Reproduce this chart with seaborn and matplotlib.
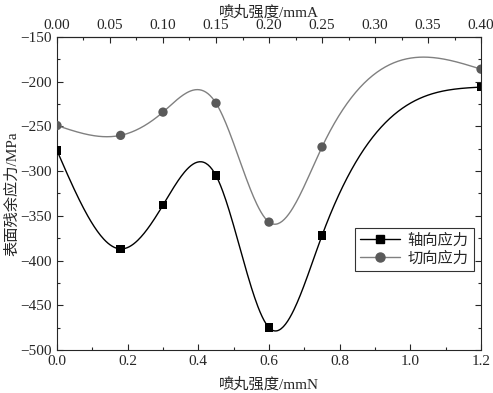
import numpy as np
import pandas as pd
import seaborn as sns
import matplotlib
matplotlib.use('Agg')
import matplotlib.pyplot as plt
from matplotlib.ticker import MultipleLocator

# 数据
x_mmN = [0.0, 0.18, 0.3, 0.45, 0.6, 0.75, 1.2]
axial = [-277, -387, -338, -305, -475, -372, -206]
tangential = [-249, -260, -234, -224, -357, -273, -186]
labels = ['轴向应力', '切向应力']


def natural_spline(x, y, xs):
    # 自然三次样条，只用来画平滑曲线
    x = np.asarray(x, float)
    y = np.asarray(y, float)
    n = len(x)
    h = np.diff(x)
    A = np.zeros((n, n))
    b = np.zeros(n)
    A[0, 0] = A[-1, -1] = 1
    for i in range(1, n - 1):
        A[i, i - 1] = h[i - 1]
        A[i, i] = 2 * (h[i - 1] + h[i])
        A[i, i + 1] = h[i]
        b[i] = 3 * ((y[i + 1] - y[i]) / h[i] - (y[i] - y[i - 1]) / h[i - 1])
    c = np.linalg.solve(A, b)
    idx = np.clip(np.searchsorted(x, xs) - 1, 0, n - 2)
    dx = xs - x[idx]
    bb = (y[idx + 1] - y[idx]) / h[idx] - h[idx] * (2 * c[idx] + c[idx + 1]) / 3
    d = (c[idx + 1] - c[idx]) / (3 * h[idx])
    return y[idx] + bb * dx + c[idx] * dx ** 2 + d * dx ** 3


sns.set_style('ticks')
plt.rcParams['font.family'] = ['Liberation Serif', 'Noto Sans CJK SC']
plt.rcParams['axes.unicode_minus'] = True

fig = plt.figure(figsize=(4.93, 3.93), dpi=100)
ax = fig.add_axes([0.1156, 0.1094, 0.8601, 0.7965])

xs = np.linspace(0, 1.2, 400)
pts = pd.DataFrame({'x': x_mmN, 'axial': axial, 'tang': tangential})
curves = pd.DataFrame({'x': xs,
                       'axial': natural_spline(x_mmN, axial, xs),
                       'tang': natural_spline(x_mmN, tangential, xs)})

sns.lineplot(data=curves, x='x', y='tang', ax=ax, color='#808080', linewidth=1.0)
sns.lineplot(data=curves, x='x', y='axial', ax=ax, color='black', linewidth=1.0)
sns.scatterplot(data=pts, x='x', y='tang', ax=ax, color='#5a5a5a', marker='o',
                s=45, edgecolor='none', zorder=3)
sns.scatterplot(data=pts, x='x', y='axial', ax=ax, color='black', marker='s',
                s=38, edgecolor='none', zorder=3)

# 图例
h1, = ax.plot([], [], color='black', marker='s', markersize=6, linewidth=1.0)
h2, = ax.plot([], [], color='#808080', marker='o', markersize=6.5,
              markerfacecolor='#5a5a5a', markeredgecolor='#5a5a5a', linewidth=1.0)
leg = ax.legend([h1, h2], labels, loc='upper left', bbox_to_anchor=(0.703, 0.39),
                frameon=True, fancybox=False, edgecolor='black', fontsize=11,
                handlelength=2.6, borderpad=0.35, labelspacing=0.25,
                handletextpad=0.5, borderaxespad=0)
leg.get_frame().set_linewidth(0.8)

ax.set_xlim(0, 1.2)
ax.set_ylim(-500, -150)
ax.xaxis.set_major_locator(MultipleLocator(0.2))
ax.xaxis.set_minor_locator(MultipleLocator(0.1))
ax.yaxis.set_major_locator(MultipleLocator(50))
ax.yaxis.set_minor_locator(MultipleLocator(25))
ax.xaxis.set_major_formatter(matplotlib.ticker.FormatStrFormatter('%.1f'))
ax.tick_params(which='both', direction='in', right=True, labelsize=11, width=0.8)
ax.tick_params(which='major', length=4)
ax.tick_params(which='minor', length=2.5)
ax.set_xlabel('喷丸强度/mmN', fontsize=11, labelpad=7)
ax.set_ylabel('表面残余应力/MPa', fontsize=11, labelpad=1)
for s in ax.spines.values():
    s.set_linewidth(0.8)

top = ax.secondary_xaxis('top', functions=(lambda v: v / 3, lambda v: v * 3))
top.xaxis.set_major_locator(MultipleLocator(0.05))
top.xaxis.set_minor_locator(MultipleLocator(0.025))
top.xaxis.set_major_formatter(matplotlib.ticker.FormatStrFormatter('%.2f'))
top.tick_params(which='both', direction='in', labelsize=11, width=0.8)
top.tick_params(which='major', length=4)
top.tick_params(which='minor', length=2.5)
top.set_xlabel('喷丸强度/mmA', fontsize=11, labelpad=2)

fig.savefig('out.png', dpi=100)
